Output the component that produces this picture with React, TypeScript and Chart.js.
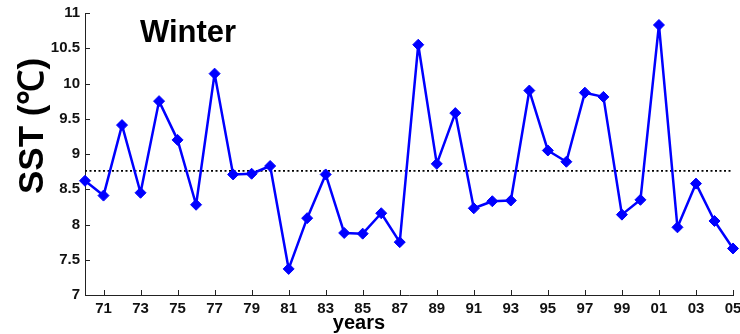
import React, { useEffect, useRef } from "react";
import { Chart, registerables } from "chart.js";

Chart.register(...registerables);

const years = [
  1970, 1971, 1972, 1973, 1974, 1975, 1976, 1977, 1978, 1979,
  1980, 1981, 1982, 1983, 1984, 1985, 1986, 1987, 1988, 1989,
  1990, 1991, 1992, 1993, 1994, 1995, 1996, 1997, 1998, 1999,
  2000, 2001, 2002, 2003, 2004, 2005,
];
const sst = [
  8.62, 8.41, 9.41, 8.45, 9.75, 9.2, 8.28, 10.14, 8.71, 8.72,
  8.83, 7.37, 8.09, 8.71, 7.88, 7.87, 8.16, 7.75, 10.55, 8.86,
  9.58, 8.23, 8.33, 8.34, 9.9, 9.05, 8.89, 9.87, 9.81, 8.14,
  8.35, 10.83, 7.96, 8.58, 8.05, 7.66,
];
const meanSst = 8.76;
const xTickYears = [
  1971, 1973, 1975, 1977, 1979, 1981, 1983, 1985, 1987, 1989,
  1991, 1993, 1995, 1997, 1999, 2001, 2003, 2005,
];
const yMin = 7;
const yMax = 11;
const yStep = 0.5;
const titleText = "Winter";
const yTitle = "SST (\u2103)";
const xTitle = "years";

const FONT = "'Liberation Sans', Arial, sans-serif";

const decorPlugin = {
  id: "decor",
  afterDraw(chart: any) {
    const { ctx, chartArea, scales } = chart;
    const xs = scales.x;
    const ys = scales.y;
    ctx.save();
    ctx.strokeStyle = "#222";
    ctx.lineWidth = 1;
    xs.ticks.forEach((t: any) => {
      const px = Math.round(xs.getPixelForValue(t.value)) + 0.5;
      ctx.beginPath();
      ctx.moveTo(px, chartArea.bottom);
      ctx.lineTo(px, chartArea.bottom - 5);
      ctx.stroke();
    });
    ys.ticks.forEach((t: any) => {
      const py = Math.round(ys.getPixelForValue(t.value)) + 0.5;
      ctx.beginPath();
      ctx.moveTo(chartArea.left, py);
      ctx.lineTo(chartArea.left + 5, py);
      ctx.stroke();
    });
    ctx.fillStyle = "#000";
    ctx.font = `bold 31px ${FONT}`;
    ctx.textAlign = "left";
    ctx.textBaseline = "alphabetic";
    ctx.fillText(titleText, 140, 42);

    ctx.font = `bold 20px ${FONT}`;
    ctx.textAlign = "center";
    ctx.fillText(xTitle, 359, 329);

    ctx.save();
    ctx.translate(43, 126);
    ctx.rotate(-Math.PI / 2);
    ctx.font = `bold 35px ${FONT}`;
    ctx.textAlign = "center";
    ctx.textBaseline = "alphabetic";
    ctx.fillText(yTitle, 0, 0);
    ctx.restore();
    ctx.restore();
  },
};

export default function App() {
  const canvasRef = useRef<HTMLCanvasElement | null>(null);

  useEffect(() => {
    if (!canvasRef.current) return;
    const chart = new Chart(canvasRef.current, {
      type: "line",
      data: {
        datasets: [
          {
            label: "mean",
            data: [
              { x: years[0], y: meanSst },
              { x: years[years.length - 1], y: meanSst },
            ],
            borderColor: "#000",
            borderWidth: 1.6,
            borderDash: [2, 2.5],
            pointRadius: 0,
            fill: false,
            order: 2,
          },
          {
            label: "SST",
            data: years.map((y, i) => ({ x: y, y: sst[i] })),
            borderColor: "#0000ff",
            backgroundColor: "#0000ff",
            borderWidth: 2.5,
            borderJoinStyle: "round",
            pointStyle: "rectRot",
            pointRadius: 5.5,
            pointBorderWidth: 1,
            pointBackgroundColor: "#0000ff",
            pointBorderColor: "#0000ff",
            tension: 0,
            fill: false,
            clip: false as any,
            order: 1,
          },
        ],
      },
      options: {
        animation: false,
        responsive: true,
        maintainAspectRatio: false,
        layout: { padding: { top: 13, right: 7, left: 0, bottom: 0 } },
        plugins: {
          legend: { display: false },
          tooltip: { enabled: false },
          title: { display: false },
        },
        scales: {
          x: {
            type: "linear",
            min: years[0],
            max: years[years.length - 1],
            afterBuildTicks: (scale: any) => {
              scale.ticks = xTickYears.map((v) => ({ value: v }));
            },
            afterFit: (scale: any) => {
              scale.height = 39;
              scale.paddingLeft = 0;
              scale.paddingRight = 0;
            },
            grid: { display: false, drawTicks: false },
            border: { display: true, color: "#222", width: 1 },
            ticks: {
              autoSkip: false,
              maxRotation: 0,
              padding: 5,
              color: "#111",
              font: { family: FONT, size: 15, weight: "bold" },
              callback: (v: any) => String(Number(v) % 100).padStart(2, "0"),
            },
          },
          y: {
            type: "linear",
            min: yMin,
            max: yMax,
            afterFit: (scale: any) => {
              scale.width = 85;
              scale.paddingTop = 0;
              scale.paddingBottom = 0;
            },
            grid: { display: false, drawTicks: false },
            border: { display: true, color: "#222", width: 1 },
            ticks: {
              stepSize: yStep,
              padding: 5,
              color: "#111",
              font: { family: FONT, size: 15, weight: "bold" },
              callback: (v: any) => String(v),
            },
          },
        },
      },
      plugins: [decorPlugin],
    });
    return () => chart.destroy();
  }, []);

  return (
    <div
      style={{
        position: "fixed",
        left: 0,
        top: 0,
        width: 740,
        height: 334,
        background: "#fff",
      }}
    >
      <canvas ref={canvasRef} />
    </div>
  );
}
